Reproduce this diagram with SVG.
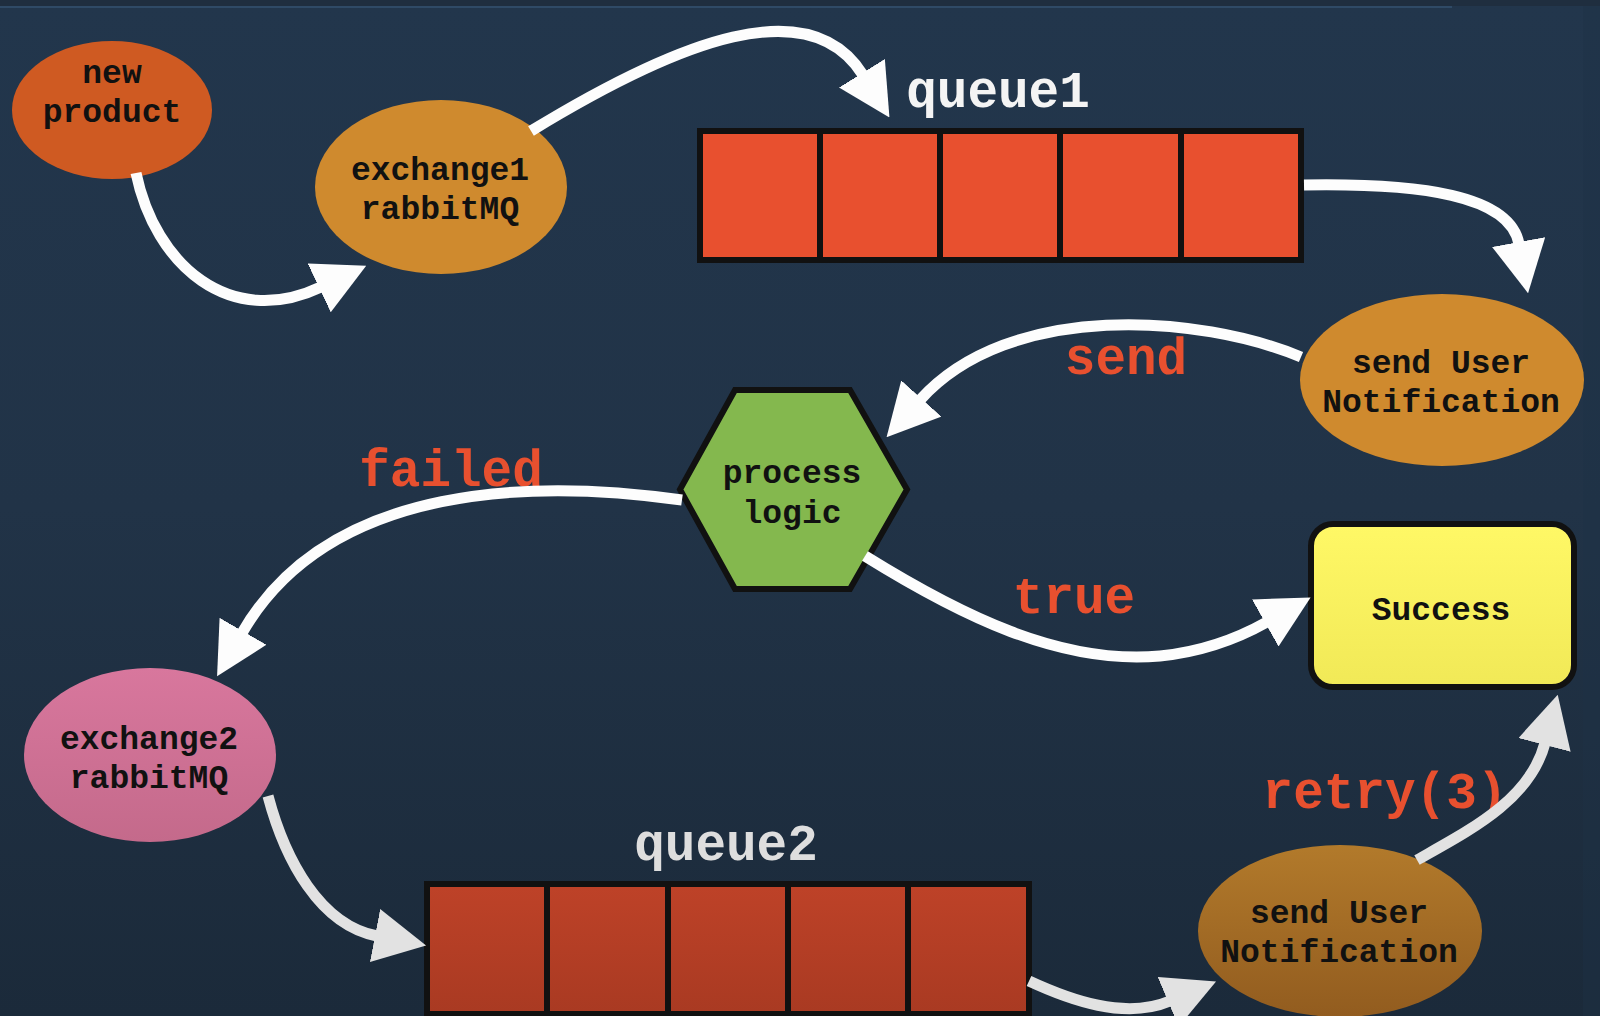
<svg xmlns="http://www.w3.org/2000/svg" width="1600" height="1016" viewBox="0 0 1600 1016">
<defs>
<linearGradient id="bg" x1="0" y1="0" x2="0" y2="1">
<stop offset="0" stop-color="#22364c"/>
<stop offset="0.5" stop-color="#213347"/>
<stop offset="1" stop-color="#1b2a3a"/>
</linearGradient>
<linearGradient id="q2" x1="0" y1="0" x2="0" y2="1">
<stop offset="0" stop-color="#be4228"/>
<stop offset="1" stop-color="#a93a22"/>
</linearGradient>
<linearGradient id="yel" x1="0" y1="0" x2="0" y2="1">
<stop offset="0" stop-color="#fff866"/>
<stop offset="1" stop-color="#f1e957"/>
</linearGradient>
<linearGradient id="pink" x1="0" y1="0" x2="0" y2="1">
<stop offset="0" stop-color="#d8779d"/>
<stop offset="1" stop-color="#c46a8b"/>
</linearGradient>
<linearGradient id="brown" x1="0" y1="0" x2="0" y2="1">
<stop offset="0" stop-color="#b27a2b"/>
<stop offset="1" stop-color="#925c1f"/>
</linearGradient>
<marker id="aw" markerUnits="userSpaceOnUse" markerWidth="52" markerHeight="54" viewBox="0 0 52 54" refX="2" refY="27" orient="auto">
<path d="M0,0 L52,27 L0,54 z" fill="#fdfdfd"/>
</marker>
<marker id="ag" markerUnits="userSpaceOnUse" markerWidth="52" markerHeight="54" viewBox="0 0 52 54" refX="2" refY="27" orient="auto">
<path d="M0,0 L52,27 L0,54 z" fill="#e2e2e2"/>
</marker>
<style>
.nt{font-family:"Liberation Mono","DejaVu Sans Mono",monospace;font-weight:bold;font-size:33px;fill:#111;text-anchor:middle}
.lb{font-family:"Liberation Mono","DejaVu Sans Mono",monospace;font-weight:bold;font-size:51px;text-anchor:middle}
.red{fill:#e8502f}
.cw{fill:none;stroke:#fdfdfd;stroke-width:11;marker-end:url(#aw)}
.cg{fill:none;stroke:#e2e2e2;stroke-width:11;marker-end:url(#ag)}
.cell{fill:none;stroke:#111;stroke-width:6}
</style>
</defs>
<rect x="0" y="0" width="1600" height="1016" fill="url(#bg)"/>
<rect x="0" y="0" width="1600" height="6" fill="#1f2e3f"/>
<rect x="0" y="6" width="1452" height="2" fill="#2f4a66"/>
<rect x="1583" y="6" width="17" height="1010" fill="#1e3145" opacity="0.4"/>

<g id="new-product">
<ellipse cx="112" cy="110" rx="100" ry="69" fill="#cf5a22"/>
<text class="nt" x="112" y="83">new</text>
<text class="nt" x="112" y="122">product</text>
</g>
<g id="exchange1">
<ellipse cx="441" cy="187" rx="126" ry="87" fill="#cf8a2e"/>
<text class="nt" x="440" y="180">exchange1</text>
<text class="nt" x="440" y="219">rabbitMQ</text>
</g>
<g id="queue1">
<rect x="700" y="131" width="601" height="129" fill="#e8502f"/>
<rect class="cell" x="700" y="131" width="601" height="129"/>
<path d="M820,131V260M940,131V260M1060,131V260M1181,131V260" stroke="#111" stroke-width="6"/>
<text class="lb" x="998" y="107" fill="#f4f4f4">queue1</text>
</g>
<g id="send-user-notification-1">
<ellipse cx="1442" cy="380" rx="142" ry="86" fill="#cf8a2e"/>
<text class="nt" x="1441" y="373">send User</text>
<text class="nt" x="1441" y="412">Notification</text>
</g>
<g id="process-logic">
<polygon points="680,489.5 735,390 850,390 907,489.5 850,589 735,589" fill="#84b84e" stroke="#111" stroke-width="6" stroke-linejoin="miter"/>
<text class="nt" x="792" y="483">process</text>
<text class="nt" x="792" y="523">logic</text>
</g>
<g id="success">
<rect x="1311" y="524" width="263" height="163" rx="22" fill="url(#yel)" stroke="#111" stroke-width="6"/>
<text class="nt" x="1441" y="620">Success</text>
</g>
<g id="exchange2">
<ellipse cx="150" cy="755" rx="126" ry="87" fill="url(#pink)"/>
<text class="nt" x="149" y="749">exchange2</text>
<text class="nt" x="149" y="788">rabbitMQ</text>
</g>
<g id="queue2">
<rect x="427" y="884" width="602" height="130" fill="url(#q2)"/>
<rect class="cell" x="427" y="884" width="602" height="130"/>
<path d="M547,884V1014M668,884V1014M788,884V1014M908,884V1014" stroke="#111" stroke-width="6"/>
<text class="lb" x="726" y="860" fill="#dedede">queue2</text>
</g>
<g id="send-user-notification-2">
<ellipse cx="1340" cy="931" rx="142" ry="86" fill="url(#brown)"/>
<text class="nt" x="1339" y="923">send User</text>
<text class="nt" x="1339" y="962">Notification</text>
</g>

<g id="edge-labels">
<text class="lb red" x="1126" y="374">send</text>
<text class="lb red" x="451" y="486">failed</text>
<text class="lb red" x="1074" y="613">true</text>
<text class="lb red" x="1385" y="808">retry(3)</text>
</g>

<g id="connectors">
<path class="cw" d="M136,173 C155,265 230,330 321,287"/>
<path class="cw" d="M531,131 C680,40 810,-10 863,75"/>
<path class="cw" d="M1304,185 C1420,183 1510,195 1519,244"/>
<path class="cw" d="M1301,357 C1200,315 1010,300 920,400"/>
<path class="cw" d="M682,500 C540,480 330,480 242,633"/>
<path class="cw" d="M865,556 C960,615 1060,665 1160,656 C1200,652 1235,640 1267,622"/>
<path class="cg" d="M268,796 C285,860 320,925 377,936"/>
<path class="cg" d="M1029,981 C1070,1000 1125,1020 1170,1001"/>
<path class="cg" d="M1417,860 C1470,830 1530,800 1545,743"/>
</g>
</svg>
